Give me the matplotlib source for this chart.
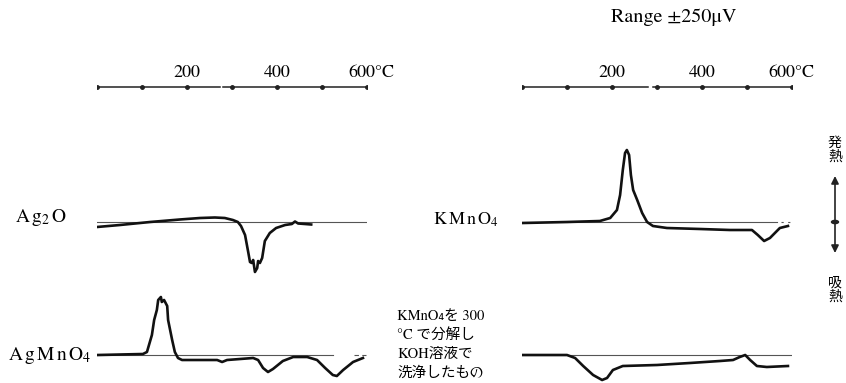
# DTA curves: Ag2O, AgMnO4, KMnO4 and decomposed KMnO4
import numpy as np
import matplotlib.pyplot as plt

# curve data: temperature (C) and deflection (arb. units, + = exothermic)
ag2o_t = [0, 51, 118, 184, 229, 262, 284, 302, 313, 320, 329, 336, 340, 344, 347,
          351, 356, 358, 362, 367, 373, 384, 398, 418, 433, 440, 447, 462, 476]
ag2o_d = [-5, -3, 0, 2.5, 4, 4.5, 4, 2, 0, -4, -13, -30, -40, -41, -38,
          -50, -46, -39, -41, -36, -19, -11, -6, -3, -2, 0.5, -1.5, -2, -2.5]

agmno4_t = [2, 102, 111, 122, 127, 133, 136, 142, 144, 149, 156, 158, 167, 173, 180,
            189, 229, 267, 278, 289, 347, 358, 369, 380, 391, 413, 436, 467, 489,
            507, 524, 533, 547, 569, 591]
agmno4_d = [0, 1, 3, 20, 35, 45, 55, 58, 53, 55, 49, 35, 15, 3, -3,
            -5, -5, -5, -7, -5, -3, -5, -13, -17, -14, -6, -2, -2, -5,
            -13, -20, -21, -15, -7, -3]

kmno4_t = [2, 100, 173, 196, 211, 218, 224, 229, 233, 238, 242, 247, 256, 267, 278,
           291, 322, 396, 462, 511, 524, 538, 551, 562, 573, 591]
kmno4_d = [-1, 0, 1, 4, 12, 27, 52, 69, 72, 67, 47, 32, 22, 9, 0,
           -4, -6, -7, -8, -8, -13, -19, -16, -11, -6, -4]

washed_t = [2, 100, 118, 136, 158, 178, 189, 202, 224, 300, 373, 440, 469, 484,
            496, 507, 522, 544, 591]
washed_d = [0, 0, -3, -11, -20, -25, -23, -15, -11, -10, -8, -6, -5, -2,
            0, -5, -11, -12, -11]

scale_ticks = [0, 100, 200, 300, 400, 500, 600]
tick_labels = ['200', '400']

W, H = 846, 383
fig = plt.figure(figsize=(W / 100, H / 100), dpi=100)
fig.patch.set_facecolor('white')

serif = 'STIXGeneral'
jp = [serif, 'Noto Sans CJK JP', 'DejaVu Sans']

# baselines and scale line height (pixels from bottom)
top_base = H - 222
low_base = H - 355
scale_y = H - 87

def column(x0, gap):
    ax = fig.add_axes([x0 / W, 0, 270 / W, 1])
    ax.set_xlim(0, 600)
    ax.set_ylim(0, H)
    ax.axis('off')
    # temperature scale with a small gap
    ax.plot([0, gap[0]], [scale_y, scale_y], color='#222', lw=1.1)
    ax.plot([gap[1], 600], [scale_y, scale_y], color='#222', lw=1.1)
    ax.plot(scale_ticks, [scale_y] * len(scale_ticks), 'o', color='#222', ms=2.5)
    for t, lab in zip([200, 400], tick_labels):
        ax.text(t, H - 73, lab, ha='center', va='center', fontsize=13, family=serif)
    return ax

ax_l = column(97, (273, 280))
ax_r = column(522, (280, 291))

fig.text(348 / W, 1 - 73 / H, '600°C', ha='left', va='center', fontsize=13, family=serif)
fig.text(768 / W, 1 - 73 / H, '600°C', ha='left', va='center', fontsize=13, family=serif)

# left column
ax_l.plot([0, 600], [top_base, top_base], color='#555', lw=0.8)
ax_l.plot(ag2o_t, np.array(ag2o_d) + top_base, color='#111', lw=1.9)
ax_l.plot([0, 525], [low_base, low_base], color='#555', lw=0.8)
ax_l.plot([572, 598], [low_base, low_base], color='#555', lw=0.8, ls=(0, (4, 3)))
ax_l.plot(agmno4_t, np.array(agmno4_d) + low_base, color='#111', lw=1.9)

# right column
ax_r.plot([0, 567], [top_base, top_base], color='#555', lw=0.8)
ax_r.plot([575, 600], [top_base, top_base], color='#555', lw=0.8, ls=(0, (2, 4)))
ax_r.plot(kmno4_t, np.array(kmno4_d) + top_base, color='#111', lw=1.9)
ax_r.plot([0, 600], [low_base, low_base], color='#555', lw=0.8)
ax_r.plot(washed_t, np.array(washed_d) + low_base, color='#111', lw=1.9)

# sample labels
fig.text(15 / W, 1 - 217 / H, r'$\mathrm{A\,g_2\,O}$', ha='left', va='center',
         fontsize=14, math_fontfamily='stix')
fig.text(8 / W, 1 - 355 / H, r'$\mathrm{A\,g\,M\,n\,O_4}$', ha='left', va='center',
         fontsize=14, math_fontfamily='stix')
fig.text(433 / W, 1 - 220 / H, r'$\mathrm{K\,M\,n\,O_4}$', ha='left', va='center',
         fontsize=13, math_fontfamily='stix')

note = ['KMnO₄を 300', '°C で分解し', 'KOH溶液で', '洗浄したもの']
for i, line in enumerate(note):
    fig.text(397 / W, 1 - (316 + 19 * i) / H, line, ha='left', va='center',
             fontsize=10.5, family=jp)

fig.text(611 / W, 1 - 17 / H, 'Range ±250μV', ha='left', va='center',
         fontsize=14.5, family=serif)

# exo / endo arrow
fig.text(835 / W, 1 - 150 / H, '発\n熱', ha='center', va='center', fontsize=10,
         family=jp, linespacing=1.0)
fig.text(835 / W, 1 - 290 / H, '吸\n熱', ha='center', va='center', fontsize=10,
         family=jp, linespacing=1.0)
fig.add_artist(plt.Circle((835 / W, 1 - 222 / H), 3.5 / W, transform=fig.transFigure,
                          color='#222'))
ax_r.annotate('', xy=(835 / W, 1 - 176 / H), xytext=(835 / W, 1 - 253 / H),
              xycoords='figure fraction', textcoords='figure fraction',
              arrowprops=dict(arrowstyle='<|-|>', color='#222', lw=1.2,
                              mutation_scale=11, shrinkA=0, shrinkB=0))

plt.savefig('out.png', dpi=100)
